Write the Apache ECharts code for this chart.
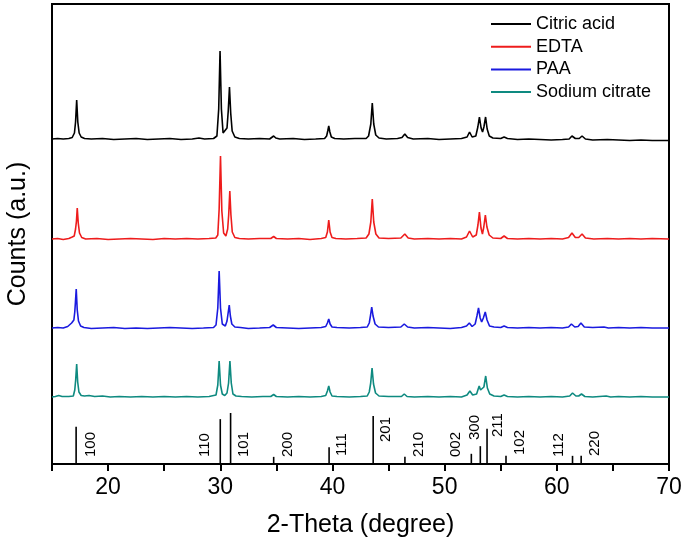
<!DOCTYPE html>
<html>
<head>
<meta charset="utf-8">
<script src="https://cdn.jsdelivr.net/npm/echarts@6/dist/echarts.min.js"></script>
<style>html,body{margin:0;padding:0;background:#fff}#c{width:685px;height:543px}</style>
</head>
<body>
<div id="c"></div>
<script>
// ---- data (2-theta, intensity above each pattern's baseline, a.u.) ----
const seriesNames = ['Citric acid', 'EDTA', 'PAA', 'Sodium citrate'];
const seriesColors = ['#000000', '#ee1c1c', '#1a1adf', '#0e8a80'];
const baselineOffsets = [325, 225, 136, 67];

const citricAcid = [
[15,0],[15.5,0.5],[16,0],[16.5,0.5],[16.8,1.5],[17.0,6],[17.1,17],[17.2,39],[17.3,17],[17.42,6],[17.6,2],[17.9,0.5],[18.5,0],[19.5,0.5],[20.5,-0.5],[21.5,0],[22.5,0.5],[23.5,-0.5],[24.5,0],[25.5,0.5],[26.5,-0.5],[27.5,0],[28.1,1],[28.6,0],[29.4,0.5],[29.7,3],[29.86,30],[29.98,88],[30.1,30],[30.25,6],[30.42,4],[30.6,11],[30.71,28],[30.82,52],[30.93,26],[31.06,8],[31.3,2],[31.7,0.5],[32.5,0],[33.5,0.5],[34.4,0],[34.58,1.5],[34.76,3],[34.95,1],[35.3,0],[36.5,0.5],[37.5,-0.5],[38.5,0],[39.3,0.5],[39.48,3],[39.58,8],[39.67,13],[39.77,7],[39.9,2],[40.2,0.5],[41,0],[42,0.5],[43,0.5],[43.22,3],[43.42,15],[43.55,36],[43.68,15],[43.86,4],[44.15,1],[44.8,0],[45.8,0.5],[46.2,1.5],[46.45,5],[46.7,1.5],[47.2,0],[48.5,0.5],[49.5,-0.5],[50.5,0],[51.5,0.5],[52.0,2],[52.22,7],[52.45,2],[52.78,3],[52.96,12],[53.1,22],[53.25,11],[53.38,7],[53.5,12],[53.65,22],[53.79,10],[53.98,3],[54.3,1],[55.0,0.5],[55.3,2],[55.6,0.5],[56.5,-0.5],[57.5,0],[58.5,-0.5],[59.5,-1],[60.5,-0.5],[61.1,0],[61.35,3],[61.65,0.5],[62.0,0.5],[62.25,3],[62.55,0],[63.2,-1],[64.5,-0.5],[65.5,-1],[66.5,-1.5],[67.5,-1],[68.5,-1.5],[70,-1.5]
];
const edta = [
[15,0],[15.5,0.5],[16,-0.5],[16.5,0.5],[16.8,2],[16.98,3],[17.1,10],[17.18,18],[17.25,31],[17.34,16],[17.45,6],[17.65,1.5],[18,0],[19,0.5],[20,-0.5],[21,0],[22,0.5],[23,0],[24,-0.5],[25,0.5],[26,0],[27,0.5],[28,0],[29,0.5],[29.6,1],[29.78,4],[29.9,30],[30.02,83],[30.14,28],[30.3,6],[30.5,3],[30.66,10],[30.75,24],[30.85,48],[30.95,24],[31.07,7],[31.3,1.5],[31.7,0.5],[32.5,0],[33.5,0.5],[34.5,0.5],[34.76,2.5],[35,0.5],[36,0],[37,0.5],[38,-0.5],[39,0.5],[39.4,1.5],[39.55,7],[39.67,19],[39.79,7],[39.96,1.5],[40.3,0.5],[41.2,0],[42.2,0.5],[43,1],[43.25,5],[43.42,17],[43.55,40],[43.68,17],[43.87,5],[44.15,1],[45,0.5],[46.1,1],[46.45,5],[46.75,1],[47.3,0],[48.5,0.5],[49.5,0],[50.5,0.5],[51.5,0],[51.95,2],[52.22,8],[52.5,2],[52.82,4],[52.97,14],[53.1,27],[53.24,11],[53.37,5],[53.49,12],[53.63,24],[53.77,12],[53.97,4],[54.3,1],[55,0.5],[55.3,3],[55.6,0.5],[56.5,0],[57.5,0.5],[58.5,0],[59.5,0.5],[60.5,0],[61.05,1.5],[61.35,6],[61.65,1.5],[61.95,1.5],[62.25,5],[62.55,1],[63.3,0],[64.5,0.5],[65.5,0],[66.5,0.5],[67.5,0],[68.5,0.5],[70,0]
];
const paa = [
[15,0],[15.5,0.5],[16,0],[16.4,1.5],[16.75,5],[16.95,8],[17.03,16],[17.09,26],[17.16,39],[17.25,18],[17.36,7],[17.55,2],[17.85,0.5],[18.5,-0.5],[19.5,0],[20.5,0.5],[21.5,-0.5],[22.5,0],[23.5,-0.5],[24.5,0],[25.5,0.5],[26.5,0],[27.5,-0.5],[28.5,0],[29.4,0.5],[29.62,3],[29.78,20],[29.9,57],[30.02,20],[30.18,4],[30.45,2],[30.6,7],[30.7,15],[30.8,23],[30.9,12],[31.03,4],[31.3,1],[31.8,0.5],[32.5,-0.5],[33.5,0],[34.4,0.5],[34.72,3],[35,0.5],[36,0],[37,-0.5],[38,0],[39,0.5],[39.4,1.5],[39.55,5],[39.67,9],[39.79,4],[39.96,1],[40.4,0.5],[41.5,0],[42.5,0.5],[43.1,1],[43.28,5],[43.4,13],[43.5,21],[43.62,12],[43.8,4],[44.1,1],[45,0.5],[46.1,1],[46.4,4],[46.7,1],[47.3,0],[48.5,0.5],[49.5,0],[50.5,-0.5],[51.5,0.5],[51.95,2],[52.2,5],[52.45,1.5],[52.72,4],[52.88,12],[53.02,20],[53.17,10],[53.3,6],[53.45,10],[53.62,16],[53.78,8],[54.0,2],[54.4,1],[55,0.5],[55.3,2],[55.6,0.5],[56.5,0],[57.5,0.5],[58.5,0],[59.5,0.5],[60.5,0],[61.05,1],[61.3,4],[61.6,1],[61.9,1.5],[62.15,5],[62.45,1],[63.2,0.5],[64.2,1],[64.6,0],[65.5,0.5],[66.5,0],[67.5,0.5],[68.5,0],[70,0]
];
const sodiumCitrate = [
[15,0],[15.3,0.5],[15.6,1.5],[15.9,0.5],[16.5,0.5],[16.9,1],[17.03,7],[17.11,17],[17.2,33],[17.29,15],[17.4,5],[17.6,1.5],[17.9,1],[18.3,1.5],[18.8,0.5],[19.5,1],[20.2,0],[21,0.5],[22,0],[23,0.5],[24,0],[25,0.5],[26,0],[27,0.5],[28,0],[29,0.5],[29.62,2],[29.78,12],[29.9,36],[30.02,12],[30.18,3],[30.4,1.5],[30.6,4],[30.74,14],[30.86,36],[30.98,14],[31.13,3],[31.4,1],[31.9,0.5],[32.8,0],[33.8,0.5],[34.5,0.5],[34.76,2.5],[35,0.5],[36,0],[37,0.5],[38,0],[39,0.5],[39.4,1.5],[39.55,6],[39.67,11],[39.79,5],[39.96,1],[40.4,0.5],[41.5,0],[42.5,0.5],[43.1,1],[43.28,5],[43.41,14],[43.53,29],[43.66,13],[43.84,4],[44.15,1],[45,0.5],[46.15,0.5],[46.4,3],[46.65,0.5],[47.3,0],[48.5,0.5],[49.5,0],[50.5,0.5],[51.5,0],[52.0,2],[52.25,6],[52.5,2],[52.85,3],[52.99,8],[53.08,11],[53.2,7],[53.35,5],[53.5,10],[53.66,21],[53.81,9],[54.02,3],[54.4,1],[55,0.5],[55.3,2],[55.6,0.5],[56.5,0],[57.5,0.5],[58.5,0],[59.5,0.5],[60.5,0],[61.15,1],[61.4,4],[61.7,1],[61.95,1],[62.2,3],[62.5,0.5],[63.2,0],[64.4,1],[64.8,0],[65.5,0.5],[66.5,0],[67.5,0.5],[68.5,0],[70,0]
];
const seriesValues = [citricAcid, edta, paa, sodiumCitrate];

// reference stick pattern: 2-theta, relative intensity (%), hkl
const stickPositions = [17.15, 30.0, 30.92, 34.76, 39.7, 43.63, 46.46, 52.38, 53.18, 53.78, 55.47, 61.4, 62.17];
const stickIntensities = [73, 88, 100, 14, 33, 94, 14, 20, 35, 69, 16, 16, 16];
const stickLabels = ['100', '110', '101', '200', '111', '201', '210', '002', '300', '211', '102', '112', '220'];

const xTickLabels = ['20', '30', '40', '50', '60', '70'];

// ---- layout / style (not data) ----
const stickScale = 0.51;
const stickLabelOffsets = [[15,-7],[-15,-7],[13,-7],[14,-7],[13,-8],[13,-22],[14,-7],[-15,-7],[-5,-24],[11,-27],[14,-9],[-14,-7],[14,-8]];
const FONT = "'Liberation Sans', Arial, Helvetica, sans-serif";

const lineSeries = seriesNames.map((name, k) => ({
  name: name,
  type: 'line',
  showSymbol: false,
  symbol: 'none',
  animation: false,
  color: seriesColors[k],
  lineStyle: { width: 1.6, color: seriesColors[k] },
  data: seriesValues[k].map(p => [p[0], p[1] + baselineOffsets[k]]),
  z: 3
}));

const stickSeries = {
  type: 'custom',
  animation: false,
  silent: true,
  data: stickPositions.map((x, i) => [x, stickIntensities[i] * stickScale]),
  renderItem: function (params, api) {
    const i = params.dataIndex;
    const x = api.value(0), h = api.value(1);
    const p0 = api.coord([x, 0]);
    const p1 = api.coord([x, h]);
    const off = stickLabelOffsets[i];
    return {
      type: 'group',
      children: [
        { type: 'line', shape: { x1: p0[0], y1: p0[1], x2: p1[0], y2: p1[1] },
          style: { stroke: '#000', lineWidth: 1.6 } },
        { type: 'text', x: p0[0] + off[0], y: p0[1] + off[1], rotation: Math.PI / 2,
          style: { text: stickLabels[i], fontSize: 15, fontFamily: FONT, fill: '#000',
                   align: 'left', verticalAlign: 'middle' } }
      ]
    };
  },
  z: 4
};

const chart = echarts.init(document.getElementById('c'), null, { renderer: 'canvas' });
chart.setOption({
  backgroundColor: '#fff',
  animation: false,
  grid: { left: 52, right: 16, top: 4, bottom: 79, show: true, borderColor: '#000', borderWidth: 2,
          containLabel: false, outerBoundsMode: 'none' },
  legend: {
    orient: 'vertical', left: 486, top: 10, itemWidth: 40, itemHeight: 2, itemGap: 4.7,
    icon: 'rect',
    data: seriesNames,
    textStyle: { fontSize: 18, fontFamily: FONT, color: '#000', lineHeight: 18 }
  },
  xAxis: {
    type: 'value', min: 15, max: 70, interval: 5,
    name: '2-Theta (degree)', nameLocation: 'middle', nameGap: 49,
    nameTextStyle: { fontSize: 25, fontFamily: FONT, color: '#000' },
    axisLine: { show: true, lineStyle: { color: '#000', width: 2 } },
    axisTick: { show: true, length: 7, lineStyle: { color: '#000', width: 2 } },
    axisLabel: { fontSize: 23, fontFamily: FONT, color: '#000', margin: 12,
      formatter: v => (xTickLabels.indexOf(String(v)) >= 0 ? String(v) : '') },
    splitLine: { show: false }
  },
  yAxis: {
    type: 'value', min: 0, max: 460,
    name: 'Counts (a.u.)', nameLocation: 'middle', nameGap: 21,
    nameTextStyle: { fontSize: 25, fontFamily: FONT, color: '#000' },
    axisLine: { show: true, lineStyle: { color: '#000', width: 2 } },
    axisTick: { show: false }, axisLabel: { show: false }, splitLine: { show: false }
  },
  series: lineSeries.concat([stickSeries])
});
</script>
</body>
</html>
